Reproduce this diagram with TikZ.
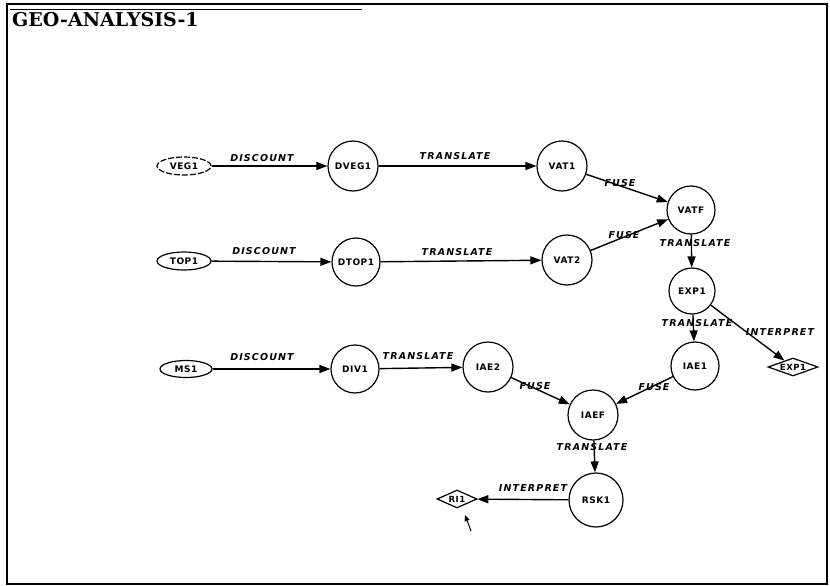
\documentclass[tikz,border=0pt]{standalone}
\usepackage{fontspec}
\usetikzlibrary{shapes.geometric,arrows.meta}
\newfontfamily\nodefont[LetterSpace=6]{DejaVu Sans}
\newfontfamily\edgefont[LetterSpace=12]{DejaVu Sans}
\newfontfamily\titlefont{DejaVu Serif}
\begin{document}
\begin{tikzpicture}[x=1pt,y=-1pt,
  circ/.style={circle,draw,line width=1.2pt,minimum size=50pt,inner sep=0pt,font=\nodefont\bfseries\fontsize{9}{10}\selectfont},
  ell/.style={ellipse,draw,line width=1.2pt,minimum width=54pt,minimum height=18pt,inner sep=0pt,font=\nodefont\bfseries\fontsize{9}{10}\selectfont},
  dia/.style={diamond,draw,line width=1.2pt,aspect=2.6,inner sep=0pt,font=\nodefont\bfseries\fontsize{8.5}{9}\selectfont},
  arr/.style={-{Triangle[length=11pt,width=8pt]},line width=1.4pt},
  lbl/.style={font=\edgefont\bfseries\itshape\fontsize{9.5}{10}\selectfont,inner sep=0pt}]
\useasboundingbox (0,0) rectangle (830,586);
\draw[line width=1.5pt] (7,4) rectangle (827,584);
\draw[line width=1pt] (10,10) -- (362,10);
\node[anchor=base west,inner sep=0pt,font=\titlefont\bfseries\fontsize{19}{20}\selectfont] (title) at (12,27) {GEO-ANALYSIS-1};

% row 1
\node[ell,dash pattern=on 6pt off 2pt] (veg1) at (184,166) {VEG1};
\node[circ] (dveg1) at (353,166) {DVEG1};
\node[circ] (vat1) at (562,166) {VAT1};
\node[circ,minimum size=48pt] (vatf) at (691,210) {VATF};
% row 2
\node[ell] (top1) at (184,261) {TOP1};
\node[circ,minimum size=48pt] (dtop1) at (356,262) {DTOP1};
\node[circ] (vat2) at (567,260) {VAT2};
\node[circ,minimum size=46pt] (exp1) at (692,291) {EXP1};
% row 3
\node[ell,minimum width=52pt,minimum height=17pt] (ms1) at (186,369) {MS1};
\node[circ,minimum size=48pt] (div1) at (355,369) {DIV1};
\node[circ] (iae2) at (488,367) {IAE2};
\node[circ,minimum size=48pt] (iae1) at (695,366) {IAE1};
\node[dia,minimum width=50pt,minimum height=18pt] (exp1d) at (793,367) {EXP1};
\node[circ] (iaef) at (593,415) {IAEF};
\node[circ,minimum size=54pt] (rsk1) at (596,500) {RSK1};
\node[dia,minimum width=40pt,minimum height=18pt] (ri1) at (457,499) {RI1};

% connectors
\draw[arr] (veg1) -- (dveg1);
\draw[arr] (dveg1) -- (vat1);
\draw[arr] (vat1) -- (vatf);
\draw[arr] (top1) -- (dtop1);
\draw[arr] (dtop1) -- (vat2);
\draw[arr] (vat2) -- (vatf);
\draw[arr] (vatf) -- (exp1);
\draw[arr] (exp1) -- (iae1);
\draw[arr] (exp1) -- (exp1d);
\draw[arr] (ms1) -- (div1);
\draw[arr] (div1) -- (iae2);
\draw[arr] (iae2) -- (iaef);
\draw[arr] (iae1) -- (iaef);
\draw[arr] (iaef) -- (rsk1);
\draw[arr] (rsk1) -- (ri1);

% labels
\node[lbl] (l1) at (262,158) {DISCOUNT};
\node[lbl] (l2) at (455,156) {TRANSLATE};
\node[lbl] (l3) at (620,183) {FUSE};
\node[lbl] (l4) at (264,251) {DISCOUNT};
\node[lbl] (l5) at (457,252) {TRANSLATE};
\node[lbl] (l6) at (624,235) {FUSE};
\node[lbl] (l7) at (695,243) {TRANSLATE};
\node[lbl] (l8) at (697,323) {TRANSLATE};
\node[lbl] (l9) at (780,332) {INTERPRET};
\node[lbl] (l10) at (262,357) {DISCOUNT};
\node[lbl] (l11) at (418,356) {TRANSLATE};
\node[lbl] (l12) at (535,386) {FUSE};
\node[lbl] (l13) at (654,387) {FUSE};
\node[lbl] (l14) at (592,447) {TRANSLATE};
\node[lbl] (l15) at (533,488) {INTERPRET};

% cursor
\coordinate (c1) at (471,531);
\coordinate (c2) at (465,515);
\draw[-{Triangle[length=6pt,width=5pt]},line width=1pt] (c1) -- (c2);
\end{tikzpicture}
\end{document}
